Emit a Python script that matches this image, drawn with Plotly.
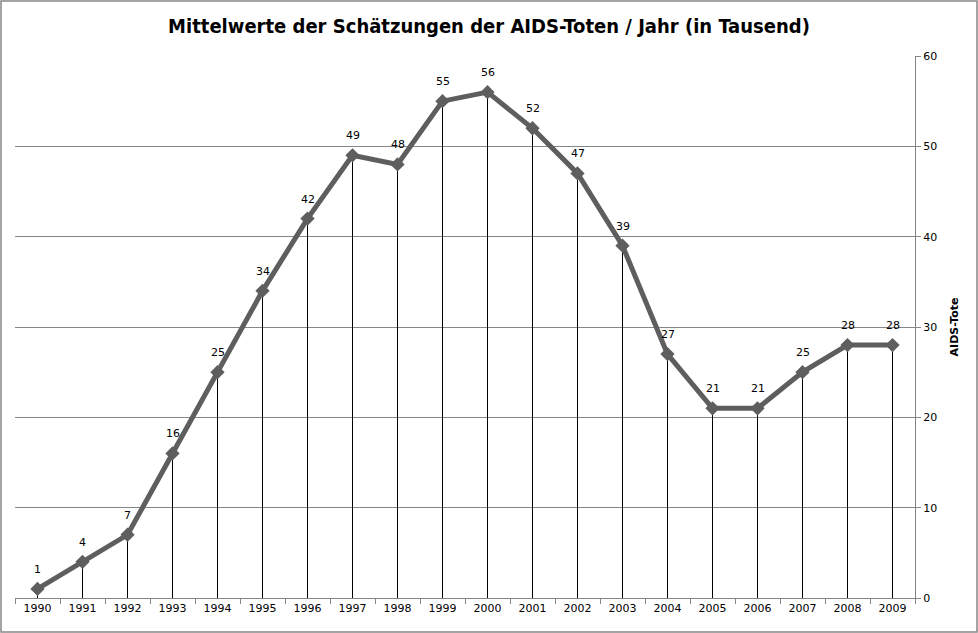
import plotly.graph_objects as go

years = [str(y) for y in range(1990, 2010)]
deaths = [1, 4, 7, 16, 25, 34, 42, 49, 48, 55, 56, 52, 47, 39, 27, 21, 21, 25, 28, 28]
y_ticks = [0, 10, 20, 30, 40, 50, 60]

title = "Mittelwerte der Schätzungen der AIDS-Toten / Jahr (in Tausend)"
y_title = "AIDS-Tote"

FONT = "DejaVu Sans, Verdana, sans-serif"

# drop lines built from data
drop_x, drop_y = [], []
for yr, v in zip(years, deaths):
    drop_x += [yr, yr, None]
    drop_y += [0, v, None]

fig = go.Figure()
fig.add_trace(go.Scatter(x=drop_x, y=drop_y, mode="lines",
                         line=dict(color="black", width=1), hoverinfo="skip",
                         showlegend=False))
fig.add_trace(go.Scatter(x=years, y=deaths, mode="lines+markers",
                         line=dict(color="#5e5e5e", width=5),
                         marker=dict(symbol="diamond", size=11, color="#5e5e5e"),
                         showlegend=False))

for i, v in enumerate(deaths):
    fig.add_annotation(x=i, y=v, text=str(v), showarrow=False,
                       xanchor="center", yanchor="bottom", yshift=11,
                       font=dict(family=FONT, size=11, color="black"))

W, H = 978, 633
L, R, T, B = 15, 63, 56, 35
pw, ph = W - L - R, H - T - B

fig.update_layout(
    width=W, height=H,
    margin=dict(l=L, r=R, t=T, b=B, autoexpand=False),
    paper_bgcolor="white", plot_bgcolor="white",
    title=dict(text="<b>" + title + "</b>", x=0.5, xanchor="center",
               y=1 - 26 / H, yanchor="middle",
               font=dict(family="DejaVu Sans Condensed, Open Sans", size=20, color="black")),
    xaxis=dict(type="category", categoryorder="array", categoryarray=years,
               range=[-0.5, len(years) - 0.5], automargin=False,
               tickson="boundaries", ticks="outside", ticklen=5, tickcolor="#868686",
               showline=True, linecolor="#868686", linewidth=1, showgrid=False,
               tickfont=dict(family=FONT, size=11, color="black")),
    yaxis=dict(side="right", range=[0, 60], tickvals=y_ticks, automargin=False,
               ticks="outside", ticklen=5, tickcolor="#868686",
               showline=True, linecolor="#868686", linewidth=1,
               showgrid=True, gridcolor="#868686", gridwidth=1, zeroline=False,
               tickfont=dict(family=FONT, size=11, color="black"),
               title=dict(text="<b>" + y_title + "</b>", standoff=14,
                          font=dict(family=FONT, size=11, color="black"))),
)

# outer border of the chart area
fig.add_shape(type="rect", xref="paper", yref="paper",
              x0=(-L + 1) / pw, x1=(W - L - 1) / pw, y0=(-B + 1) / ph, y1=(H - B - 1) / ph,
              line=dict(color="#868686", width=1.5), layer="below")

fig.write_html("out.html", config={"displayModeBar": False},
               post_script="document.body.style.margin='0';document.body.style.overflow='hidden';")
